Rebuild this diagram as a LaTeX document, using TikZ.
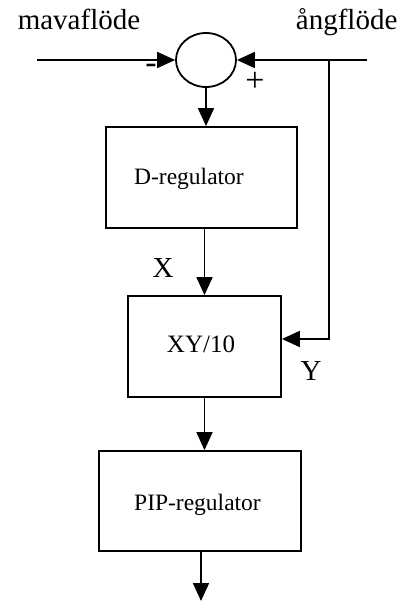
\documentclass[tikz,border=0pt]{standalone}
\usepackage{fontspec}
\setmainfont{Liberation Serif}
\usetikzlibrary{arrows.meta,shapes.geometric}
\begin{document}
\begin{tikzpicture}[x=1pt,y=-1pt,
  line width=1.8pt,
  arr/.style={-{Triangle[length=18pt,width=16pt]}},
  blk/.style={draw,rectangle,inner sep=0pt},
  btxt/.style={font=\fontsize{23.5}{28}\selectfont,inner sep=0pt},
  big/.style={font=\fontsize{29}{34}\selectfont,inner sep=0pt},
  mid/.style={font=\fontsize{29}{34}\selectfont,inner sep=0pt},
  sgn/.style={font=\fontsize{34}{38}\selectfont,inner sep=0pt}]
\useasboundingbox (0,0) rectangle (406,601);
\node[draw,ellipse,minimum width=60pt,minimum height=54pt,inner sep=0pt] (sum) at (206,60) {};
\node[big,anchor=base] (mava) at (79,30) {mavaflöde};
\node[big,anchor=base west] (ang) at (295,30) {ångflöde};
\coordinate (lin) at (37,60);
\coordinate (rin) at (367,60);
\coordinate (junc) at (329,60);
\coordinate (turn) at (329,339);
\node[blk,minimum width=191pt,minimum height=101pt] (dreg) at (201.5,177.5) {};
\node[btxt,anchor=base] (dtxt) at (189,185) {D-regulator};
\node[blk,minimum width=153pt,minimum height=101pt] (xy) at (204.5,346.5) {};
\node[btxt,font=\fontsize{25}{30}\selectfont,anchor=base] (xytxt) at (201,352) {XY/10};
\node[blk,minimum width=202pt,minimum height=100pt] (pip) at (200,501) {};
\node[btxt,anchor=base] (piptxt) at (197.5,510) {PIP-regulator};
\coordinate (out) at (201,601);
\node[sgn] (minus) at (151,69) {-};
\node[sgn] (plus) at (255,82) {+};
\node[mid] (xl) at (163,268) {X};
\node[mid] (yl) at (311,371) {Y};
\draw[arr] (lin) -- (sum.west);
\draw[arr] (rin) -- (sum.east);
\draw[arr] (junc) -- (turn) -- (turn -| xy.east);
\draw[arr] (sum.south) -- (sum.south |- dreg.north);
\draw[arr] (dreg.south -| xy.north) -- (xy.north);
\draw[arr] (xy.south) -- (xy.south |- pip.north);
\draw[arr] (pip.south -| out) -- (out);
\end{tikzpicture}
\end{document}
